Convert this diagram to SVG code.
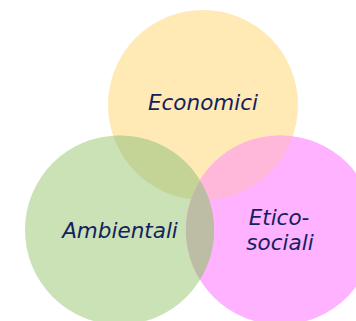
<svg xmlns="http://www.w3.org/2000/svg" width="356" height="321" viewBox="0 0 356 321">
  <style>
    .lbl { font-family: "DejaVu Sans", Verdana, sans-serif; font-style: italic; font-size: 21.5px; fill: #13225E; text-anchor: middle; }
  </style>
  <defs>
    <clipPath id="clipY"><circle cx="203" cy="105" r="95"/></clipPath>
    <clipPath id="clipG"><circle cx="119.6" cy="230" r="94.6"/></clipPath>
  </defs>
  <rect width="356" height="321" fill="#ffffff"/>
  <g id="economici">
    <circle cx="203" cy="105" r="95" fill="#FFEAB6"/>
  </g>
  <g id="ambientali">
    <circle cx="119.6" cy="230" r="94.6" fill="#CBE2B6"/>
  </g>
  <g id="etico-sociali">
    <circle cx="280.4" cy="230" r="94.6" fill="#FFB2FF"/>
  </g>
  <g id="overlaps">
    <circle cx="119.6" cy="230" r="94.6" fill="#C4D496" clip-path="url(#clipY)"/>
    <circle cx="280.4" cy="230" r="94.6" fill="#FFB8DA" clip-path="url(#clipY)"/>
    <circle cx="280.4" cy="230" r="94.6" fill="#BDBCA4" clip-path="url(#clipG)"/>
  </g>
  <g id="labels">
    <text class="lbl" x="203" y="110">Economici</text>
    <text class="lbl" x="120" y="238">Ambientali</text>
    <text class="lbl" x="279" y="225">Etico-</text>
    <text class="lbl" x="280" y="250">sociali</text>
  </g>
  <g id="connectors"></g>
</svg>
